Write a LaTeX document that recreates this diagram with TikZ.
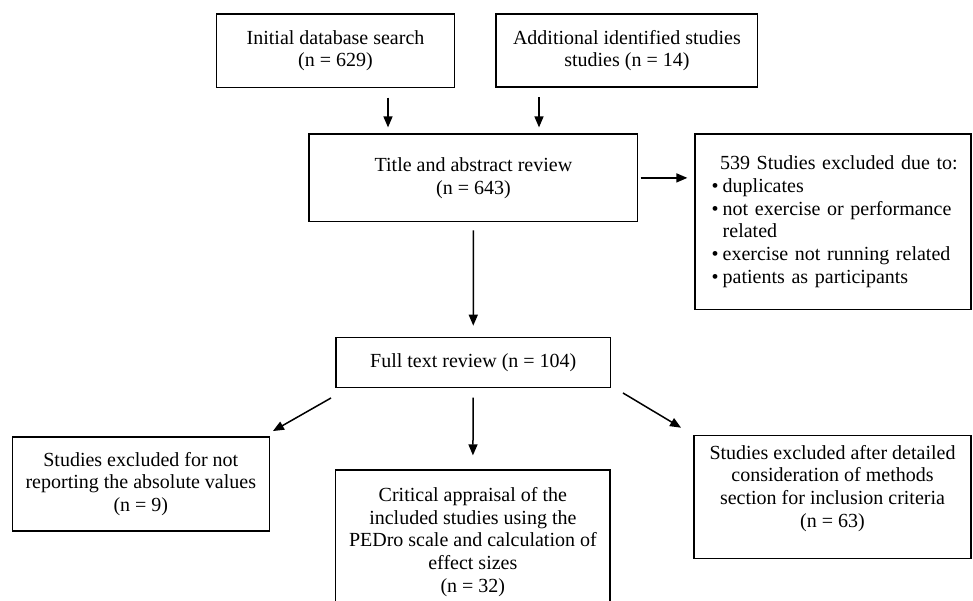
\documentclass[tikz,border=0pt]{standalone}
\usepackage{fontspec}
\setmainfont{Liberation Serif}
\usetikzlibrary{arrows.meta}
\begin{document}
\begin{tikzpicture}[x=1pt,y=-1pt,
  box/.style={draw, line width=1.3pt, inner sep=0pt, align=center,
    font=\fontsize{20}{22.8}\selectfont},
  arr/.style={line width=1.5pt, -{Triangle[length=11pt,width=9pt]}}]
\useasboundingbox (0,0) rectangle (973,600);
% boxes
\node[box, minimum width=237.6pt, minimum height=73.3pt] (init) at (335.5,50.7)
  {Initial database search\\(n = 629)};
\node[box, minimum width=261.7pt, minimum height=73pt] (add) at (626.9,50.5)
  {Additional identified studies\\studies (n = 14)};
\node[box, minimum width=328.7pt, minimum height=87.7pt] (title) at (473.4,177.9)
  {Title and abstract review\\(n = 643)};
\node[box, align=left, inner xsep=0pt, text width=276pt, minimum height=175.5pt] (excl) at (833,221.75)
  {\hspace*{25pt}539 Studies excluded due to:\\
   \hspace*{16.7pt}\makebox[11pt][l]{•}duplicates\\
   \hspace*{16.7pt}\makebox[11pt][l]{•}not exercise or performance\\
   \hspace*{27.7pt}related\\
   \hspace*{16.7pt}\makebox[11pt][l]{•}exercise not running related\\
   \hspace*{16.7pt}\makebox[11pt][l]{•}patients as participants};
\node[box, minimum width=274.5pt, minimum height=50pt] (full) at (473.25,362.3)
  {Full text review (n = 104)};
\node[box, minimum width=257pt, minimum height=94pt] (left) at (140.8,484)
  {Studies excluded for not\\reporting the absolute values\\(n = 9)};
\node[box, minimum width=274.3pt, minimum height=144pt] (mid) at (472.85,542)
  {Critical appraisal of the\\included studies using the\\PEDro scale and calculation of\\effect sizes\\(n = 32)};
\node[box, anchor=north, minimum width=277pt, inner ysep=9.3pt, text depth=22pt] (right) at (832.5,435)
  {Studies excluded after detailed\\consideration of methods\\section for inclusion criteria\\(n = 63)};
% arrows
\coordinate (a1) at (388,0);
\coordinate (a2) at (539,0);
\draw[arr, shorten <=9.7pt, shorten >=6pt] (a1 |- init.south) -- (a1 |- title.north);
\draw[arr, shorten <=9.7pt, shorten >=6pt] (a2 |- add.south) -- (a2 |- title.north);
\draw[arr, shorten <=2.3pt, shorten >=7pt] (title.east) -- (title.east -| excl.west);
\draw[arr, shorten <=8pt, shorten >=11pt] (title.south) -- (full.north);
\draw[arr, shorten <=9.7pt, shorten >=14pt] (full.south) -- (mid.north);
\draw[arr] ([shift={(-4.3,10)}]full.south west) -- ([shift={(3,-5.3)}]left.north east);
\draw[arr] ([shift={(11.8,5)}]full.south east) -- ([shift={(-12.3,-7.3)}]right.north west);
\end{tikzpicture}
\end{document}
